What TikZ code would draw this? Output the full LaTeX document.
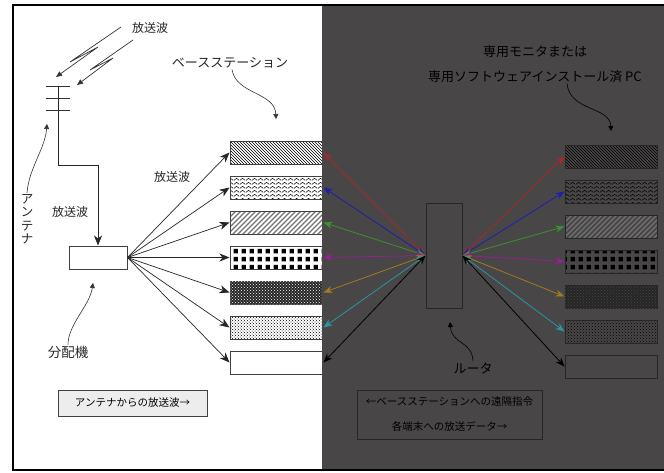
\documentclass[tikz,border=0pt]{standalone}
\usepackage{fontspec}
\newfontfamily\jpfont{Noto Sans CJK JP}
\usetikzlibrary{arrows.meta,patterns}

\definecolor{panel}{RGB}{73,70,71}
\definecolor{lkred}{RGB}{165,40,45}
\definecolor{lkblue}{RGB}{30,30,175}
\definecolor{lkgreen}{RGB}{60,145,50}
\definecolor{lkviolet}{RGB}{150,30,150}
\definecolor{lkorange}{RGB}{160,125,30}
\definecolor{lkcyan}{RGB}{40,150,165}

% own fill patterns
\pgfdeclarepatternformonly{wavy}{\pgfqpoint{0pt}{0pt}}{\pgfqpoint{6pt}{4pt}}{\pgfqpoint{6pt}{4pt}}{%
  \pgfsetlinewidth{0.6pt}
  \pgfpathmoveto{\pgfqpoint{0pt}{0.8pt}}
  \pgfpathlineto{\pgfqpoint{3pt}{3.2pt}}
  \pgfpathlineto{\pgfqpoint{6pt}{0.8pt}}
  \pgfusepath{stroke}}
\pgfdeclarepatternformonly{wide stripes}{\pgfqpoint{-1pt}{-1pt}}{\pgfqpoint{6pt}{6pt}}{\pgfqpoint{5pt}{5pt}}{%
  \pgfsetlinewidth{1.4pt}
  \pgfpathmoveto{\pgfqpoint{0pt}{0pt}}
  \pgfpathlineto{\pgfqpoint{5.1pt}{5.1pt}}
  \pgfusepath{stroke}}
\pgfdeclarepatternformonly{blocks}{\pgfqpoint{0pt}{0pt}}{\pgfqpoint{7.5pt}{7.5pt}}{\pgfqpoint{7.5pt}{7.5pt}}{%
  \pgfpathrectangle{\pgfqpoint{0.75pt}{0.75pt}}{\pgfqpoint{4.5pt}{4.5pt}}
  \pgfusepath{fill}}

\tikzset{
  tag/.style={font=\jpfont\fontsize{12}{14}\selectfont, text=black!85, inner sep=1pt},
  station/.style={draw=black!75, line width=1pt, minimum width=93pt, minimum height=23pt, inner sep=0pt},
  screen/.style={station, minimum width=92pt},
  feed/.style={-{Stealth[length=10pt,width=8pt,inset=3pt]}, line width=0.7pt, black!85},
  link/.style={{Stealth[length=9pt,width=7pt,inset=3pt]}-{Stealth[length=9pt,width=7pt,inset=3pt]}, line width=0.8pt},
  pointer/.style={-{Triangle[length=5pt,width=5pt]}, line width=0.6pt, black!80},
  bolt/.style={-{Triangle[length=6pt,width=5pt]}, line width=0.7pt, black!80},
  caption/.style={draw=black!75, line width=1pt, font=\jpfont\fontsize{10.5}{25}\selectfont, align=center, inner sep=0pt},
  fill1/.style={pattern=north west lines},
  fill2/.style={pattern=wavy},
  fill3/.style={pattern=wide stripes, pattern color=black!55},
  fill4/.style={pattern=blocks},
  fill5/.style={fill=black!85, postaction={pattern=crosshatch dots, pattern color=#1}},
  fill6/.style={pattern=crosshatch dots, pattern color=black},
  fill7/.style={},
}

\begin{document}
\begin{tikzpicture}[x=1pt,y=-1pt]
  \useasboundingbox (0,0) rectangle (664,472);

  % antenna and incoming waves
  \draw[line width=0.8pt, black!80] (46,86) -- (70,86) (46,98) -- (70,98) (46,110) -- (70,110);
  \coordinate (mast) at (58,86);
  \coordinate (bend) at (58,165);
  \draw[bolt] (121,27) -- (70,62) -- (98,47) -- (56,77);
  \draw[bolt] (133,40) -- (90,70) -- (113,58) -- (77,85);
  \node[tag] (wavetop) at (150,28) {放送波};

  \node[tag, align=center, font=\jpfont\fontsize{12.5}{13.5}\selectfont] (antenna) at (27,219) {ア\\ン\\テ\\ナ};
  \coordinate (antip) at (47,124);
  \draw[pointer] (antenna.north) .. controls +(2,-25) and +(-2,25) .. (antip);

  % distributor
  \node[draw=black!75, line width=1pt, minimum width=58pt, minimum height=23pt] (splitter) at (98,257.5) {};
  \draw[feed] (mast) -- (bend) -| (splitter.north);
  \node[tag] (wavemid) at (70,212) {放送波};
  \node[tag, font=\jpfont\fontsize{13.5}{15}\selectfont] (spltlabel) at (68,352) {分配機};
  \coordinate (sptip) at (93,283);
  \draw[pointer] (spltlabel.north) .. controls +(0,-20) and +(-3,22) .. (sptip);

  % base stations
  \foreach \i/\f in {1/fill1,2/fill2,3/fill3,4/fill4,5/fill5,6/fill6,7/fill7}
    \node[station, \f=white] (bs\i) at (276.5,{152.5+35*(\i-1)}) {};
  \foreach \i in {1,...,7}
    \draw[feed] (splitter.east) -- (bs\i.west);
  \node[tag] (wavefan) at (172,177) {放送波};
  \node[tag, font=\jpfont\fontsize{13}{15}\selectfont] (bslabel) at (230,63) {ベースステーション};
  \coordinate (bstip) at (276,119);
  \draw[pointer] ([xshift=2pt]bslabel.south) .. controls +(4,25) and +(-1,-27) .. (bstip);

  \node[caption, fill=black!7, minimum width=149pt, minimum height=26pt] (capleft) at (132.5,403) {アンテナからの放送波→};

  % dimmed right half
  \fill[panel] (322,5) rectangle (666,469);

  % router and monitors
  \node[draw=black!85, line width=1pt, minimum width=36pt, minimum height=105pt] (router) at (444,255.5) {};
  \foreach \i/\f in {1/fill1,2/fill2,3/fill3,4/fill4,5/fill5,6/fill6,7/fill7}
    \node[screen, draw=black!85, \f=panel] (pc\i) at (611,{156.5+35*(\i-1)}) {};
  \foreach \i/\c in {1/lkred,2/lkblue,3/lkgreen,4/lkviolet,5/lkorange,6/lkcyan,7/black} {
    \draw[link, \c] (router.west) -- (bs\i.east);
    \draw[link, \c] (router.east) -- (pc\i.west);
  }

  \node[tag, text=black, align=center, font=\jpfont\fontsize{13}{25}\selectfont] (pclabel) at (535,64) {専用モニタまたは\\専用ソフトウェアインストール済 PC};
  \coordinate (pctip) at (611,131);
  \draw[pointer, black] ([xshift=32pt]pclabel.south) .. controls +(3,28) and +(-1,-25) .. (pctip);

  \node[tag, text=black, font=\jpfont\fontsize{13}{15}\selectfont] (rtlabel) at (473,368) {ルータ};
  \coordinate (rttip) at (450,322);
  \draw[pointer, black] (rtlabel.north) .. controls +(-1,-21) and +(2,23) .. (rttip);

  \node[caption, draw=black!85, minimum width=185pt, minimum height=49pt] (capright) at (449.5,414.5) {←ベースステーションへの遠隔指令\\各端末への放送データ→};

  % frame
  \draw[line width=2pt] (666,4.5) -- (12.5,4.5) -- (12.5,469.5) -- (666,469.5);
\end{tikzpicture}
\end{document}
